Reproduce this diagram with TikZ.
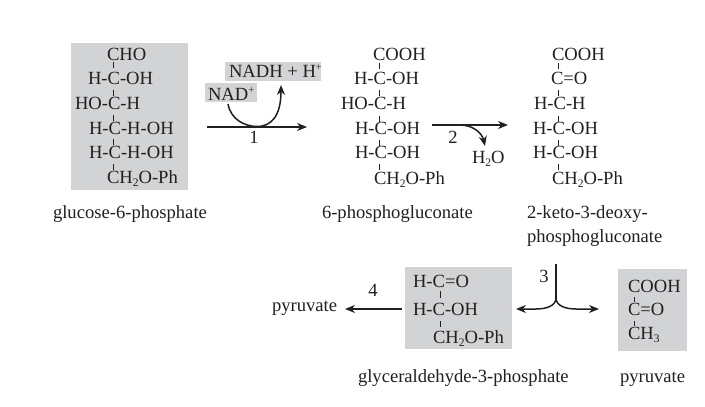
\documentclass[tikz,border=0pt]{standalone}
\usepackage{fontspec}
\setmainfont{Liberation Serif}
\usetikzlibrary{arrows.meta}
\definecolor{ink}{HTML}{231F20}
\definecolor{panel}{HTML}{D1D3D4}
\newcommand{\lowi}[1]{\raisebox{-3.5pt}{\fontsize{11.5}{12}\selectfont #1}}
\newcommand{\upi}[1]{\raisebox{6.5pt}{\fontsize{10.5}{12}\selectfont #1}}
\tikzset{
  chem/.style={anchor=base west,inner sep=0pt,outer sep=0pt,text=ink,font=\fontsize{18.6}{20}\selectfont},
  mid/.style={chem,anchor=base},
  graybox/.style={fill=panel,draw=none},
  bondline/.style={draw=ink,line width=0.75pt},
  rxn/.style={draw=ink,line width=1.5pt,-{Stealth[length=10pt,width=8pt]}},
}
\newcommand{\bondat}[3]{\draw[bondline] (#1,#2) -- (#1,#3);}
\begin{document}
\begin{tikzpicture}[x=1pt,y=-1pt]
\useasboundingbox (0,0) rectangle (705,407);
\fill[white] (0,0) rectangle (705,407);
% panels
\fill[graybox] (71,43) rectangle (188,190);
\fill[graybox] (225,62) rectangle (321,81);
\fill[graybox] (205,83) rectangle (257,102);
\fill[graybox] (405,267) rectangle (512,349);
\fill[graybox] (618,269) rectangle (687,351);
% glucose-6-phosphate
\node[chem] (g1) at (107,60.5) {CHO};
\node[chem] (g2) at (88,84) {H-C-OH};
\node[chem] (g3) at (75,109) {HO-C-H};
\node[chem] (g4) at (89,134) {H-C-H-OH};
\node[chem] (g5) at (89,158) {H-C-H-OH};
\node[chem] (g6) at (107,183) {CH\lowi{2}O-Ph};
\bondat{113.5}{62}{68}\bondat{113.5}{90}{96}\bondat{113.5}{115}{121}\bondat{113.5}{139}{145}\bondat{113.5}{164}{170}
\node[chem] (gl) at (53,218) {glucose-6-phosphate};
% 6-phosphogluconate
\node[chem] (p1) at (373,60.5) {COOH};
\node[chem] (p2) at (354,84) {H-C-OH};
\node[chem] (p3) at (341,109) {HO-C-H};
\node[chem] (p4) at (355,134) {H-C-OH};
\node[chem] (p5) at (355,158) {H-C-OH};
\node[chem] (p6) at (374,184) {CH\lowi{2}O-Ph};
\bondat{379.5}{63}{69}\bondat{379.5}{90}{96}\bondat{379.5}{116}{122}\bondat{379.5}{140}{146}\bondat{379.5}{164}{170}
\node[chem] (pl) at (322,218) {6-phosphogluconate};
% 2-keto-3-deoxy-phosphogluconate
\node[chem] (k1) at (552,60.5) {COOH};
\node[chem] (k2) at (551,84) {C=O};
\node[chem] (k3) at (534,109) {H-C-H};
\node[chem] (k4) at (533,134) {H-C-OH};
\node[chem] (k5) at (533,158) {H-C-OH};
\node[chem] (k6) at (552,184) {CH\lowi{2}O-Ph};
\bondat{558}{63}{69}\bondat{558}{90}{96}\bondat{558}{116}{122}\bondat{558}{140}{146}\bondat{558}{164}{170}
\node[chem] (kl1) at (527,218) {2-keto-3-deoxy-};
\node[chem] (kl2) at (527,242) {phosphogluconate};
% step 1
\node[chem] (nadh) at (229,77) {NADH + H\upi{+}};
\node[chem] (nad) at (208,100) {NAD\upi{+}};
\coordinate (a1s) at (207,127);
\coordinate (a1e) at (307,127);
\coordinate (c1s) at (228,104);
\coordinate (c1e) at (281,85);
\draw[rxn] (a1s) -- (a1e);
\draw[rxn] (c1s) .. controls (231,120) and (245,126) .. (256,126.5)
  .. controls (272,127) and (281,115) .. (c1e);
\node[mid] (n1) at (254,143.5) {1};
% step 2
\coordinate (a2s) at (432,125);
\coordinate (a2e) at (508,125);
\coordinate (c2s) at (460,125);
\coordinate (c2e) at (485,146);
\draw[rxn] (a2s) -- (a2e);
\draw[rxn] (c2s) .. controls (473,125) and (482,133) .. (c2e);
\node[mid] (n2) at (453,143) {2};
\node[chem] (h2o) at (472,163) {H\lowi{2}O};
% glyceraldehyde-3-phosphate
\node[chem] (t1) at (413,287) {H-C=O};
\node[chem] (t2) at (413,315) {H-C-OH};
\node[chem] (t3) at (433,343) {CH\lowi{2}O-Ph};
\bondat{440}{291}{298}\bondat{440}{321}{327}
\node[chem] (tl) at (358,382) {glyceraldehyde-3-phosphate};
% pyruvate box
\node[chem] (r1) at (628,292) {COOH};
\node[chem] (r2) at (628,315) {C=O};
\node[chem] (r3) at (628,339) {CH\lowi{3}};
\bondat{634}{297}{302}\bondat{634}{321}{326}
\node[chem] (rl) at (620,382) {pyruvate};
% step 3
\coordinate (f0) at (556,264);
\coordinate (f1) at (556,298);
\coordinate (fl) at (516,309);
\coordinate (fr) at (599,309);
\draw[draw=ink,line width=1.5pt] (f0) -- (f1);
\draw[rxn] (f1) .. controls (556,306) and (546,309) .. (536,309) -- (fl);
\draw[rxn] (f1) .. controls (556,306) and (566,309) .. (576,309) -- (fr);
\node[mid] (n3) at (544,282) {3};
% step 4
\node[chem] (pyr) at (272,311) {pyruvate};
\coordinate (a4s) at (402,309);
\coordinate (a4e) at (345,309);
\draw[rxn] (a4s) -- (a4e);
\node[mid] (n4) at (373,296) {4};
\end{tikzpicture}
\end{document}
